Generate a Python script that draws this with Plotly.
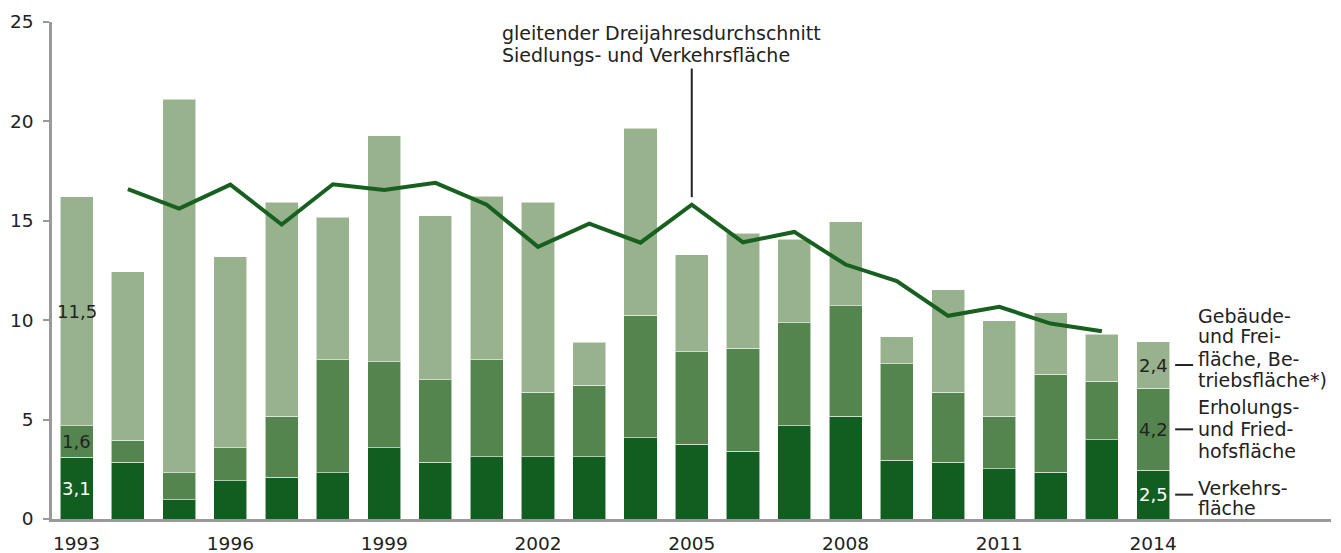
import plotly.graph_objects as go

years = list(range(1993, 2015))
verkehr = [3.10, 2.85, 0.98, 1.92, 2.10, 2.33, 3.59, 2.85, 3.13, 3.13, 3.13,
           4.09, 3.77, 3.41, 4.69, 5.16, 2.95, 2.85, 2.52, 2.35, 3.98, 2.45]
erholung = [1.60, 1.12, 1.35, 1.67, 3.06, 5.69, 4.32, 4.16, 4.89, 3.24, 3.61,
            6.17, 4.64, 5.18, 5.18, 5.56, 4.87, 3.52, 2.65, 4.94, 2.95, 4.12]
gebaeude = [11.50, 8.46, 18.79, 9.60, 10.77, 7.15, 11.36, 8.25, 8.21, 9.56, 2.15,
            9.39, 4.89, 5.78, 4.21, 4.22, 1.35, 5.17, 4.80, 3.08, 2.37, 2.35]

avg_years = list(range(1994, 2014))
avg_values = [16.59, 15.61, 16.82, 14.81, 16.84, 16.55, 16.91, 15.81, 13.69, 14.86,
              13.90, 15.81, 13.92, 14.44, 12.80, 11.97, 10.22, 10.67, 9.83, 9.44]

labels_first = ["3,1", "1,6", "11,5"]
labels_last = ["2,5", "4,2", "2,4"]

tick_years = [1993, 1996, 1999, 2002, 2005, 2008, 2011, 2014]
tick_text = [str(y) for y in tick_years]

legend_blocks = [
    ["Gebäude-", "und Frei-", "fläche, Be-", "triebsfläche*)"],
    ["Erholungs-", "und Fried-", "hofsfläche"],
    ["Verkehrs-", "fläche"],
]
avg_title = ["gleitender Dreijahresdurchschnitt", "Siedlungs- und Verkehrsfläche"]

C_DARK = "#115E20"
C_MID = "#55854E"
C_LIGHT = "#97B28D"
C_LINE = "#17601F"
TXT = "#222222"
FONT = "DejaVu Sans, sans-serif"

fig = go.Figure()
BW = 0.645
edge = dict(color="rgba(255,255,255,0.55)", width=1)
fig.add_bar(x=years, y=verkehr, marker_color=C_DARK, marker_line=edge, width=BW,
            name="Verkehrsfläche", hoverinfo="skip")
fig.add_bar(x=years, y=erholung, marker_color=C_MID, marker_line=edge, width=BW,
            name="Erholungs- und Friedhofsfläche", hoverinfo="skip")
fig.add_bar(x=years, y=gebaeude, marker_color=C_LIGHT, marker_line=edge, width=BW,
            name="Gebäude- und Freifläche", hoverinfo="skip")
fig.add_scatter(x=avg_years, y=avg_values, mode="lines",
                line=dict(color=C_LINE, width=4), hoverinfo="skip")

annotations = []


def seg_centers(i):
    a, b, c = verkehr[i], erholung[i], gebaeude[i]
    return [a / 2, a + b / 2, a + b + c / 2]


for idx, labs in ((0, labels_first), (len(years) - 1, labels_last)):
    for k, (yc, t) in enumerate(zip(seg_centers(idx), labs)):
        annotations.append(dict(x=years[idx], y=yc, text=t, showarrow=False,
                                xanchor="center", yanchor="middle",
                                font=dict(size=18, family=FONT,
                                          color="white" if k == 0 else TXT)))

# right-hand labels with short dashes
last = len(years) - 1
centers = seg_centers(last)
block_for_seg = [2, 1, 0]
shifts = {0: [49, 29, 6, -15], 1: [22, 0, -22], 2: [7, -13]}
shapes = []
for seg in range(3):
    yc = centers[seg]
    shapes.append(dict(type="line", xref="x", yref="y",
                       x0=years[last] + 0.43, x1=years[last] + 0.78, y0=yc, y1=yc,
                       line=dict(color=TXT, width=2)))
    b = block_for_seg[seg]
    for line_txt, ys in zip(legend_blocks[b], shifts[b]):
        annotations.append(dict(x=years[last] + 0.845, y=yc, yshift=ys, text=line_txt,
                                showarrow=False, xanchor="left", yanchor="middle",
                                font=dict(size=19, family=FONT, color=TXT)))

# leader line and title for moving average
i05 = avg_years.index(2005)
shapes.append(dict(type="line", xref="x", yref="y",
                   x0=2005, x1=2005, y0=avg_values[i05] + 0.38, y1=22.66,
                   line=dict(color=TXT, width=2)))
for t, yv in zip(avg_title, [24.44, 23.33]):
    annotations.append(dict(x=2001.26, y=yv, text=t, showarrow=False,
                            xanchor="left", yanchor="middle",
                            font=dict(size=19, family=FONT, color=TXT)))

fig.update_layout(
    width=1341, height=553,
    margin=dict(l=52, r=10, t=22, b=34, autoexpand=False),
    barmode="stack",
    showlegend=False,
    plot_bgcolor="white", paper_bgcolor="white",
    font=dict(family=FONT, color=TXT, size=18),
    annotations=annotations,
    shapes=shapes,
)
fig.update_xaxes(range=[1992.52, 2017.47], tickvals=tick_years, ticktext=tick_text,
                 showgrid=False, zeroline=False, showline=True, linecolor="#999999",
                 linewidth=2.5, ticks="", tickfont=dict(size=18.5, color=TXT),
                 ticklabelstandoff=6, automargin=False)
fig.update_yaxes(range=[0, 25], tickvals=[0, 5, 10, 15, 20, 25],
                 showgrid=False, zeroline=False, showline=True, linecolor="#999999",
                 linewidth=2.5, ticks="outside", ticklen=6, tickwidth=2,
                 tickcolor="#999999", tickfont=dict(size=18.5, color=TXT),
                 ticklabelstandoff=6, automargin=False)

fig.write_html("out.html", config={"displayModeBar": False},
               post_script="document.body.style.margin='0';")
